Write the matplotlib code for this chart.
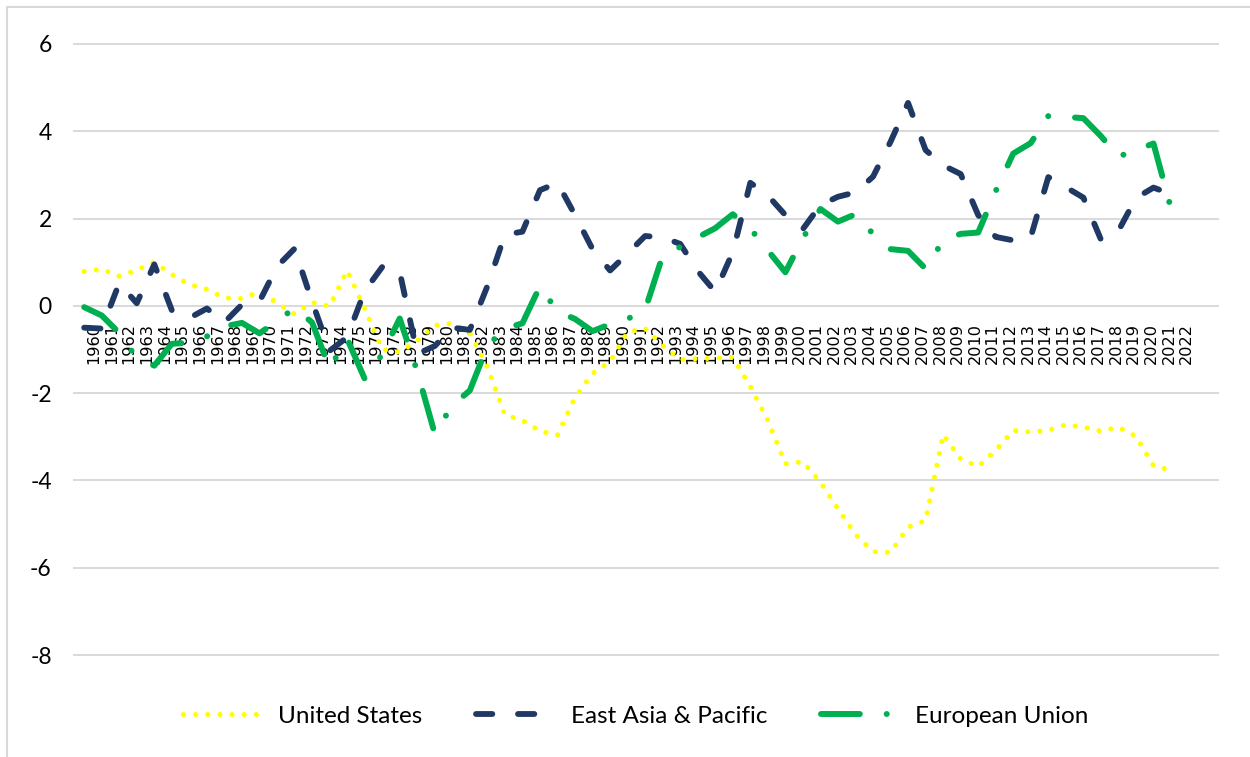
import numpy as np
import matplotlib
matplotlib.use("Agg")
import matplotlib.pyplot as plt
from matplotlib.lines import Line2D
from matplotlib.patches import Rectangle

years = list(range(1960, 2023))
united_states = [0.79, 0.84, 0.68, 0.82, 1.00, 0.72, 0.49, 0.38, 0.18, 0.17,
                 0.32, 0.07, -0.19, 0.08, -0.01, 0.81, -0.06, -1.00, -1.06, -0.80,
                 -0.45, -0.40, -0.62, -1.40, -2.50, -2.62, -2.87, -2.96, -2.10, -1.55,
                 -1.28, -0.60, -0.52, -0.91, -1.23, -1.21, -1.20, -1.18, -1.85, -2.62,
                 -3.62, -3.57, -4.04, -4.65, -5.24, -5.63, -5.65, -5.07, -4.92, -2.95,
                 -3.51, -3.68, -3.31, -2.85, -2.89, -2.85, -2.72, -2.78, -2.87, -2.78,
                 -2.99, -3.66, -3.77]
east_asia_pacific = [-0.50, -0.52, 0.52, 0.06, 0.95, -0.10, -0.28, -0.06, -0.38, 0.03,
                     0.10, 0.90, 1.31, 0.10, -1.03, -0.72, 0.34, 0.89, 0.78, -1.10,
                     -0.92, -0.50, -0.55, 0.45, 1.63, 1.70, 2.65, 2.82, 2.08, 1.30,
                     0.81, 1.20, 1.60, 1.57, 1.42, 0.80, 0.32, 1.23, 2.82, 2.53,
                     2.08, 1.76, 2.31, 2.50, 2.60, 2.96, 3.76, 4.65, 3.57, 3.22,
                     3.02, 2.08, 1.58, 1.50, 1.58, 2.95, 2.72, 2.48, 1.52, 1.72,
                     2.47, 2.71, 2.56]
european_union = [-0.03, -0.22, -0.62, -1.20, -1.37, -0.87, -0.84, -0.70, -0.47, -0.39,
                  -0.63, -0.35, -0.05, -0.38, -1.43, -0.75, -1.67, -1.11, -0.29, -1.50,
                  -2.93, -2.28, -1.94, -0.92, -0.52, -0.40, 0.45, -0.13, -0.30, -0.58,
                  -0.42, -0.30, -0.09, 1.15, 1.35, 1.57, 1.78, 2.10, 1.77, 1.27,
                  0.77, 1.55, 2.22, 1.93, 2.10, 1.65, 1.30, 1.26, 0.85, 1.50,
                  1.65, 1.68, 2.63, 3.49, 3.73, 4.35, 4.33, 4.30, 3.89, 3.42,
                  3.57, 3.72, 2.23]
series_names = ["United States", "East Asia & Pacific", "European Union"]
y_ticks = [-8, -6, -4, -2, 0, 2, 4, 6]

W, H = 1250, 757
fig = plt.figure(figsize=(W / 100, H / 100), dpi=100)
fig.patch.set_facecolor("white")
ax = fig.add_axes([74 / W, (H - 655) / H, 1144 / W, 611 / H])

x = np.arange(len(years))
ax.set_xlim(-0.58, 64.68)
ax.set_ylim(-8, 6)

for s in ax.spines.values():
    s.set_visible(False)
ax.spines["bottom"].set_position(("data", 0))

ax.set_yticks(y_ticks)
ax.set_yticklabels([str(v) for v in y_ticks], fontfamily="Lato", fontsize=16.5, color="#000000")
ax.grid(axis="y", color="#d9d9d9", linewidth=1.4, clip_on=False)
ax.set_axisbelow(True)
ax.tick_params(axis="y", length=0, pad=16)

ax.set_xticks(0.56 + 1.0053 * x)
ax.set_xticklabels([str(y) for y in years], rotation=90, fontfamily="DejaVu Sans",
                   fontsize=11.6, color="#000000")
ax.tick_params(axis="x", length=0, pad=12)

us_style = dict(color="#FFFF00", linewidth=3.7, linestyle=(0, (0.01, 2.35)),
                dash_capstyle="round")
ea_style = dict(color="#203864", linewidth=4.2, linestyle=(0, (2.8, 4.4)),
                dash_capstyle="round", dash_joinstyle="round")
eu_style = dict(color="#00B050", linewidth=4.3, linestyle=(0, (6.5, 4.5, 0.01, 4.5)),
                dash_capstyle="round", dash_joinstyle="round")

ax.plot(x, united_states, **us_style, zorder=3)
ax.plot(x, east_asia_pacific, **ea_style, zorder=4)
ax.plot(x, european_union, **eu_style, zorder=5)

handles = [Line2D([], [], **us_style), Line2D([], [], **ea_style), Line2D([], [], **eu_style)]
fig.legend(handles, series_names, loc="center", bbox_to_anchor=(636 / W, 41 / H), ncol=3,
           frameon=False, prop={"family": "Lato", "size": 17.5}, handlelength=3.4,
           handletextpad=0.5, columnspacing=2.2)

fig.patches.append(Rectangle((7 / W, -0.1), 1.2, 1 - 7 / H + 0.1, transform=fig.transFigure,
                             fill=False, edgecolor="#d9d9d9", linewidth=1.5))

fig.savefig("out.png", dpi=100, facecolor="white")
